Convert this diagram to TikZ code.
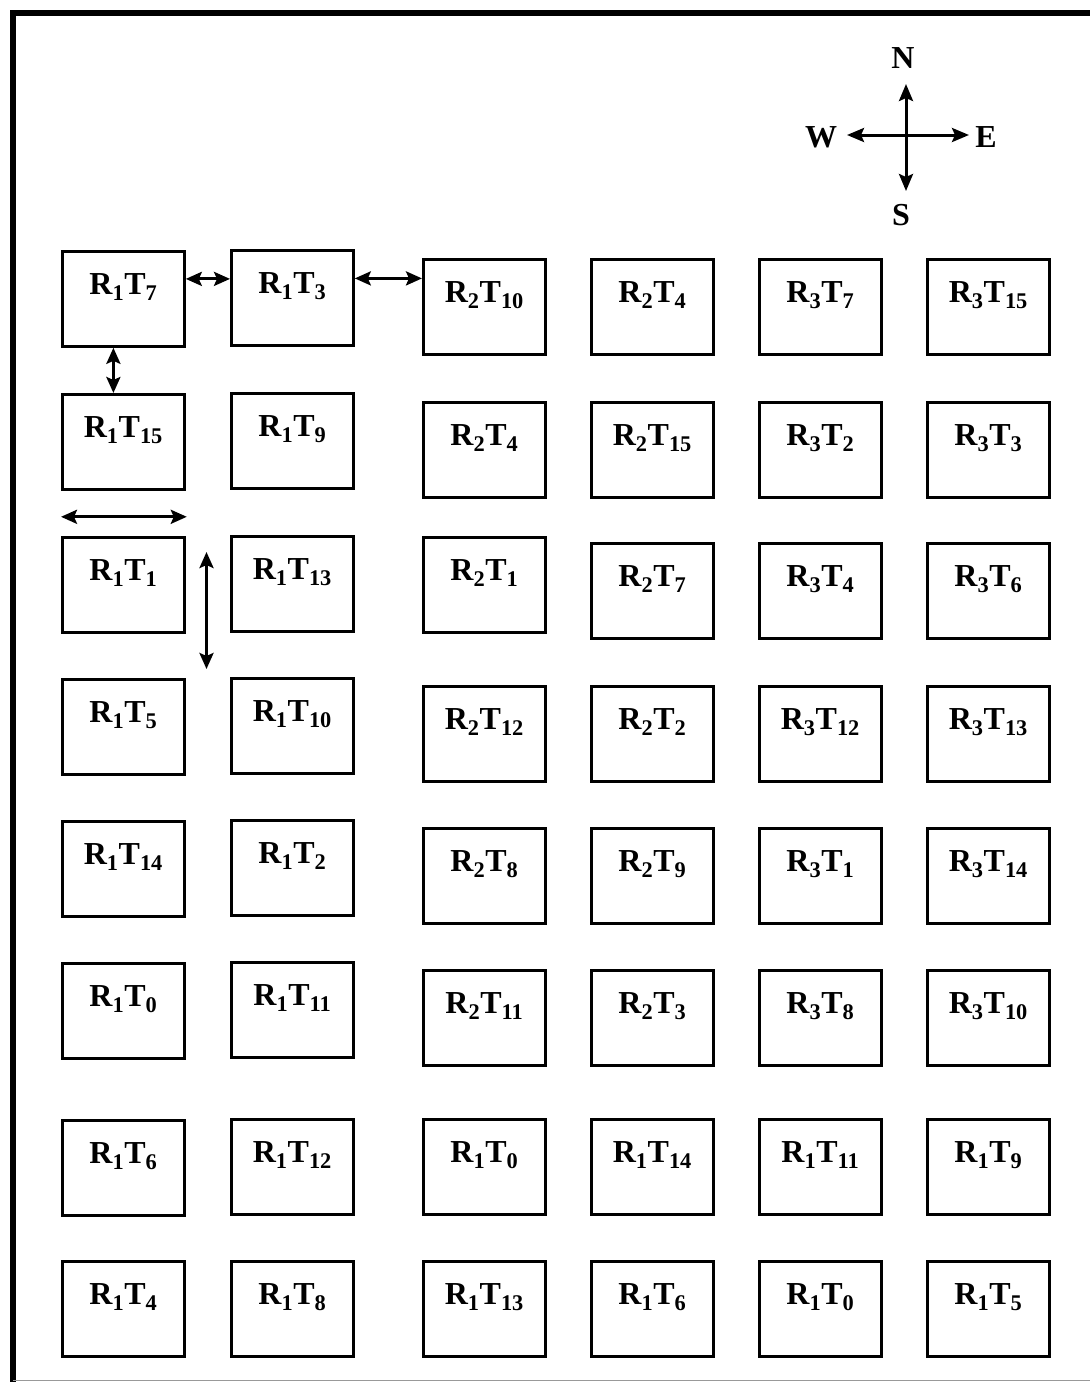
\documentclass[tikz,border=0pt]{standalone}
\usepackage{fontspec}
\setmainfont{Liberation Serif}
\usetikzlibrary{arrows.meta,calc}
\begin{document}
\begin{tikzpicture}[x=1pt,y=-1pt,
  cell/.style={draw,line width=2.8pt,anchor=north west,minimum width=122pt,minimum height=95pt,
    inner xsep=0pt,inner ysep=10pt,text height=33pt,text depth=42pt,
    font=\fontsize{32}{36}\selectfont\bfseries},
  conn/.style={line width=3pt,{Stealth[length=16pt,width=14pt,inset=3pt]}-{Stealth[length=16pt,width=14pt,inset=3pt]}},
  carrow/.style={line width=3pt,-{Stealth[length=17pt,width=14pt,inset=3pt]}},
  dir/.style={font=\fontsize{32}{36}\selectfont\bfseries,inner sep=0pt}]
\useasboundingbox (0,0) rectangle (1090,1382);
\fill[white] (0,0) rectangle (1090,1382);
% frame
\draw[line width=6pt] (10,13) -- (1090,13);
\draw[line width=6pt] (13,10) -- (13,1382);
\draw[line width=1pt,black!40] (13,1380) -- (1090,1380);
\newcommand{\rt}[2]{R\textsubscript{#1}T\textsubscript{#2}}
% row 1
\node[cell] (a11) at (61,250) {\rt{1}{7}};
\node[cell] (a12) at (230,249) {\rt{1}{3}};
\node[cell] (a13) at (422,258) {\rt{2}{10}};
\node[cell] (a14) at (590,258) {\rt{2}{4}};
\node[cell] (a15) at (758,258) {\rt{3}{7}};
\node[cell] (a16) at (926,258) {\rt{3}{15}};
% row 2
\node[cell] (a21) at (61,393) {\rt{1}{15}};
\node[cell] (a22) at (230,392) {\rt{1}{9}};
\node[cell] (a23) at (422,401) {\rt{2}{4}};
\node[cell] (a24) at (590,401) {\rt{2}{15}};
\node[cell] (a25) at (758,401) {\rt{3}{2}};
\node[cell] (a26) at (926,401) {\rt{3}{3}};
% row 3
\node[cell] (a31) at (61,536) {\rt{1}{1}};
\node[cell] (a32) at (230,535) {\rt{1}{13}};
\node[cell] (a33) at (422,536) {\rt{2}{1}};
\node[cell] (a34) at (590,542) {\rt{2}{7}};
\node[cell] (a35) at (758,542) {\rt{3}{4}};
\node[cell] (a36) at (926,542) {\rt{3}{6}};
% row 4
\node[cell] (a41) at (61,678) {\rt{1}{5}};
\node[cell] (a42) at (230,677) {\rt{1}{10}};
\node[cell] (a43) at (422,685) {\rt{2}{12}};
\node[cell] (a44) at (590,685) {\rt{2}{2}};
\node[cell] (a45) at (758,685) {\rt{3}{12}};
\node[cell] (a46) at (926,685) {\rt{3}{13}};
% row 5
\node[cell] (a51) at (61,820) {\rt{1}{14}};
\node[cell] (a52) at (230,819) {\rt{1}{2}};
\node[cell] (a53) at (422,827) {\rt{2}{8}};
\node[cell] (a54) at (590,827) {\rt{2}{9}};
\node[cell] (a55) at (758,827) {\rt{3}{1}};
\node[cell] (a56) at (926,827) {\rt{3}{14}};
% row 6
\node[cell] (a61) at (61,962) {\rt{1}{0}};
\node[cell] (a62) at (230,961) {\rt{1}{11}};
\node[cell] (a63) at (422,969) {\rt{2}{11}};
\node[cell] (a64) at (590,969) {\rt{2}{3}};
\node[cell] (a65) at (758,969) {\rt{3}{8}};
\node[cell] (a66) at (926,969) {\rt{3}{10}};
% row 7
\node[cell] (a71) at (61,1119) {\rt{1}{6}};
\node[cell] (a72) at (230,1118) {\rt{1}{12}};
\node[cell] (a73) at (422,1118) {\rt{1}{0}};
\node[cell] (a74) at (590,1118) {\rt{1}{14}};
\node[cell] (a75) at (758,1118) {\rt{1}{11}};
\node[cell] (a76) at (926,1118) {\rt{1}{9}};
% row 8
\node[cell] (a81) at (61,1260) {\rt{1}{4}};
\node[cell] (a82) at (230,1260) {\rt{1}{8}};
\node[cell] (a83) at (422,1260) {\rt{1}{13}};
\node[cell] (a84) at (590,1260) {\rt{1}{6}};
\node[cell] (a85) at (758,1260) {\rt{1}{0}};
\node[cell] (a86) at (926,1260) {\rt{1}{5}};
% connectors
\draw[conn] ([yshift=20pt]a11.east) -- ([yshift=20pt]a11.east -| a12.west);
\draw[conn] ([yshift=19.5pt]a12.east) -- ([yshift=19.5pt]a12.east -| a13.west);
\draw[conn] ([xshift=-10pt]a11.south) -- ([xshift=-10pt]a11.south |- a21.north);
\coordinate (h1) at ($(a21.south west)+(0,26)$);
\coordinate (h2) at ($(a21.south east)+(1,26)$);
\draw[conn] (h1) -- (h2);
\coordinate (v1) at (206.5,552);
\coordinate (v2) at (206.5,669);
\draw[conn] (v1) -- (v2);
% compass
\coordinate (c) at (906,135);
\node[dir] (N) at (903,58) {N};
\node[dir] (S) at (901,215) {S};
\node[dir] (W) at (821,137) {W};
\node[dir] (E) at (986,137) {E};
\draw[carrow] (c) -- (906,84);
\draw[carrow] (c) -- (906,191);
\draw[carrow] (c) -- (847,135);
\draw[carrow] (c) -- (969,135);
\end{tikzpicture}
\end{document}
